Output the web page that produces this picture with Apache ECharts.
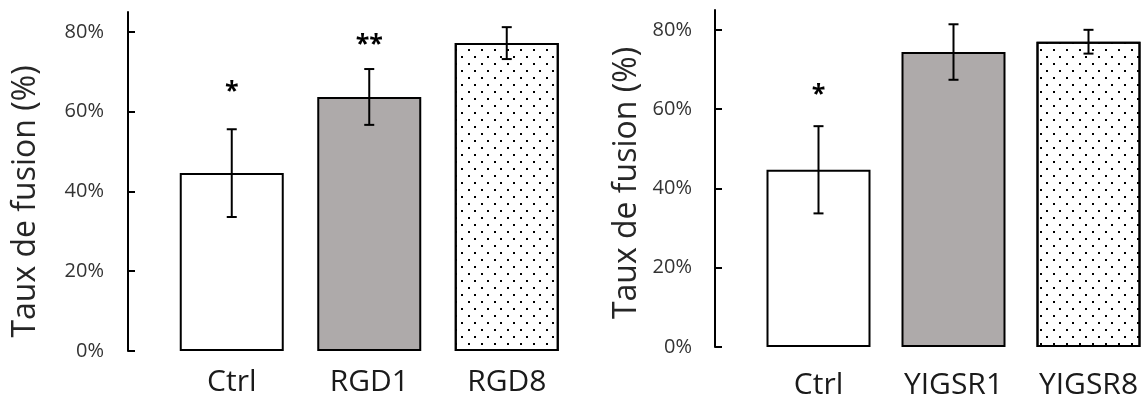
<!DOCTYPE html>
<html><head><meta charset="utf-8">
<script src="https://cdn.jsdelivr.net/npm/echarts@6/dist/echarts.min.js"></script>
<style>html,body{margin:0;padding:0;background:#fff}#c{width:1146px;height:401px}</style>
</head><body><div id="c"></div>
<script>
// ---- data ----
const categoriesLeft = ['Ctrl', 'RGD1', 'RGD8'];
const valuesLeft = [44.6, 63.7, 77.2];
const errorsLeft = [11.0, 7.0, 4.0];
const marksLeft = ['*', '**', ''];
const markPosLeft = [66.0, 77.7, null];

const categoriesRight = ['Ctrl', 'YIGSR1', 'YIGSR8'];
const valuesRight = [44.7, 74.4, 77.0];
const errorsRight = [11.0, 7.0, 3.0];
const marksRight = ['*', '', ''];
const markPosRight = [64.6, null, null];

const yTicks = [0, 20, 40, 60, 80];
const yAxisName = 'Taux de fusion (%)';

// ---- styles ----
const FONT = '"Open Sans", "Noto Sans", sans-serif';
const dotted = {
  symbol: 'rect', symbolSize: 1, color: '#000',
  dashArrayX: [[1.5, 10.5], [0, 6, 1.5, 4.5]], dashArrayY: [1.5, 4.5], rotation: 0
};
const barStyles = [
  { color: '#ffffff', borderColor: '#000', borderWidth: 2 },
  { color: '#aeaaaa', borderColor: '#000', borderWidth: 2 },
  { color: '#ffffff', borderColor: '#000', borderWidth: 2, decal: dotted }
];

function barData(vals) {
  return vals.map((v, i) => ({ value: [i, v], itemStyle: barStyles[i] }));
}
function errData(vals, errs) {
  return vals.map((v, i) => [i, v - errs[i], v + errs[i]]);
}
function markData(pos) {
  const d = [];
  pos.forEach((p, i) => { if (p != null) d.push([i, p]); });
  return d;
}
function errRender(params, api) {
  const x = api.value(0);
  const lo = api.coord([x, api.value(1)]);
  const hi = api.coord([x, api.value(2)]);
  const w = 5;
  const st = { stroke: '#000', lineWidth: 2 };
  return {
    type: 'group', children: [
      { type: 'line', shape: { x1: hi[0], y1: hi[1], x2: lo[0], y2: lo[1] }, style: st },
      { type: 'line', shape: { x1: hi[0] - w, y1: hi[1], x2: hi[0] + w, y2: hi[1] }, style: st },
      { type: 'line', shape: { x1: lo[0] - w, y1: lo[1], x2: lo[0] + w, y2: lo[1] }, style: st }
    ]
  };
}
function markRender(marks) {
  return function (params, api) {
    const idx = api.value(0);
    const p = api.coord([idx, api.value(1)]);
    return {
      type: 'text', x: p[0], y: p[1] + 4,
      style: { text: marks[idx], font: 'bold 25px ' + FONT, fill: '#000', align: 'center', verticalAlign: 'middle' }
    };
  };
}

function yAxisOpt(gridIndex, offset, nameGap, namePad, labelMargin) {
  return {
    type: 'value', gridIndex, min: 0, max: 85, interval: 20, offset,
    name: yAxisName, nameLocation: 'middle', nameGap,
    nameTextStyle: { fontFamily: FONT, fontSize: 32, color: '#262626', padding: namePad },
    axisLine: { show: true, onZero: false, lineStyle: { color: '#000', width: 2 } },
    axisTick: { show: true, inside: true, length: 7, lineStyle: { color: '#000', width: 2 }, customValues: yTicks },
    axisLabel: { fontFamily: FONT, fontSize: 20, color: '#333', margin: labelMargin, customValues: yTicks,
      formatter: v => v + '%' },
    splitLine: { show: false }
  };
}
// value-type x axis indexed by category position (0,1,2), labels taken from the category list
function xAxisOpt(gridIndex, cats, min, max, margin) {
  return {
    type: 'value', gridIndex, min, max,
    axisLine: { show: false, onZero: false }, axisTick: { show: false }, splitLine: { show: false },
    axisLabel: { fontFamily: FONT, fontSize: 30, color: '#1a1a1a', margin,
      customValues: cats.map((c, i) => i), formatter: v => cats[Math.round(v)] }
  };
}

const option = {
  animation: false,
  backgroundColor: '#fff',
  grid: [
    { left: 163, top: 12, width: 412.5, height: 339 },
    { left: 751, top: 10, right: 0, height: 337 }
  ],
  xAxis: [
    xAxisOpt(0, categoriesLeft, -0.5, 2.5, 16),
    xAxisOpt(1, categoriesRight, -0.5, -0.5 + 395 / 135, 23)
  ],
  yAxis: [yAxisOpt(0, 35, 86, [0, 40, 0, 0], 24), yAxisOpt(1, 36, 72, [0, 9, 0, 0], 23)],
  series: [
    { type: 'bar', xAxisIndex: 0, yAxisIndex: 0, barWidth: 104, data: barData(valuesLeft) },
    { type: 'bar', xAxisIndex: 1, yAxisIndex: 1, barWidth: 104, data: barData(valuesRight) },
    { type: 'custom', xAxisIndex: 0, yAxisIndex: 0, renderItem: errRender, encode: { x: 0, y: [1, 2] }, data: errData(valuesLeft, errorsLeft), z: 5 },
    { type: 'custom', xAxisIndex: 1, yAxisIndex: 1, renderItem: errRender, encode: { x: 0, y: [1, 2] }, data: errData(valuesRight, errorsRight), z: 5 },
    { type: 'custom', xAxisIndex: 0, yAxisIndex: 0, renderItem: markRender(marksLeft), encode: { x: 0, y: 1 }, data: markData(markPosLeft), z: 6 },
    { type: 'custom', xAxisIndex: 1, yAxisIndex: 1, renderItem: markRender(marksRight), encode: { x: 0, y: 1 }, data: markData(markPosRight), z: 6 }
  ]
};
const chart = echarts.init(document.getElementById('c'), null, { renderer: 'canvas' });
chart.setOption(option);
</script>
</body></html>
